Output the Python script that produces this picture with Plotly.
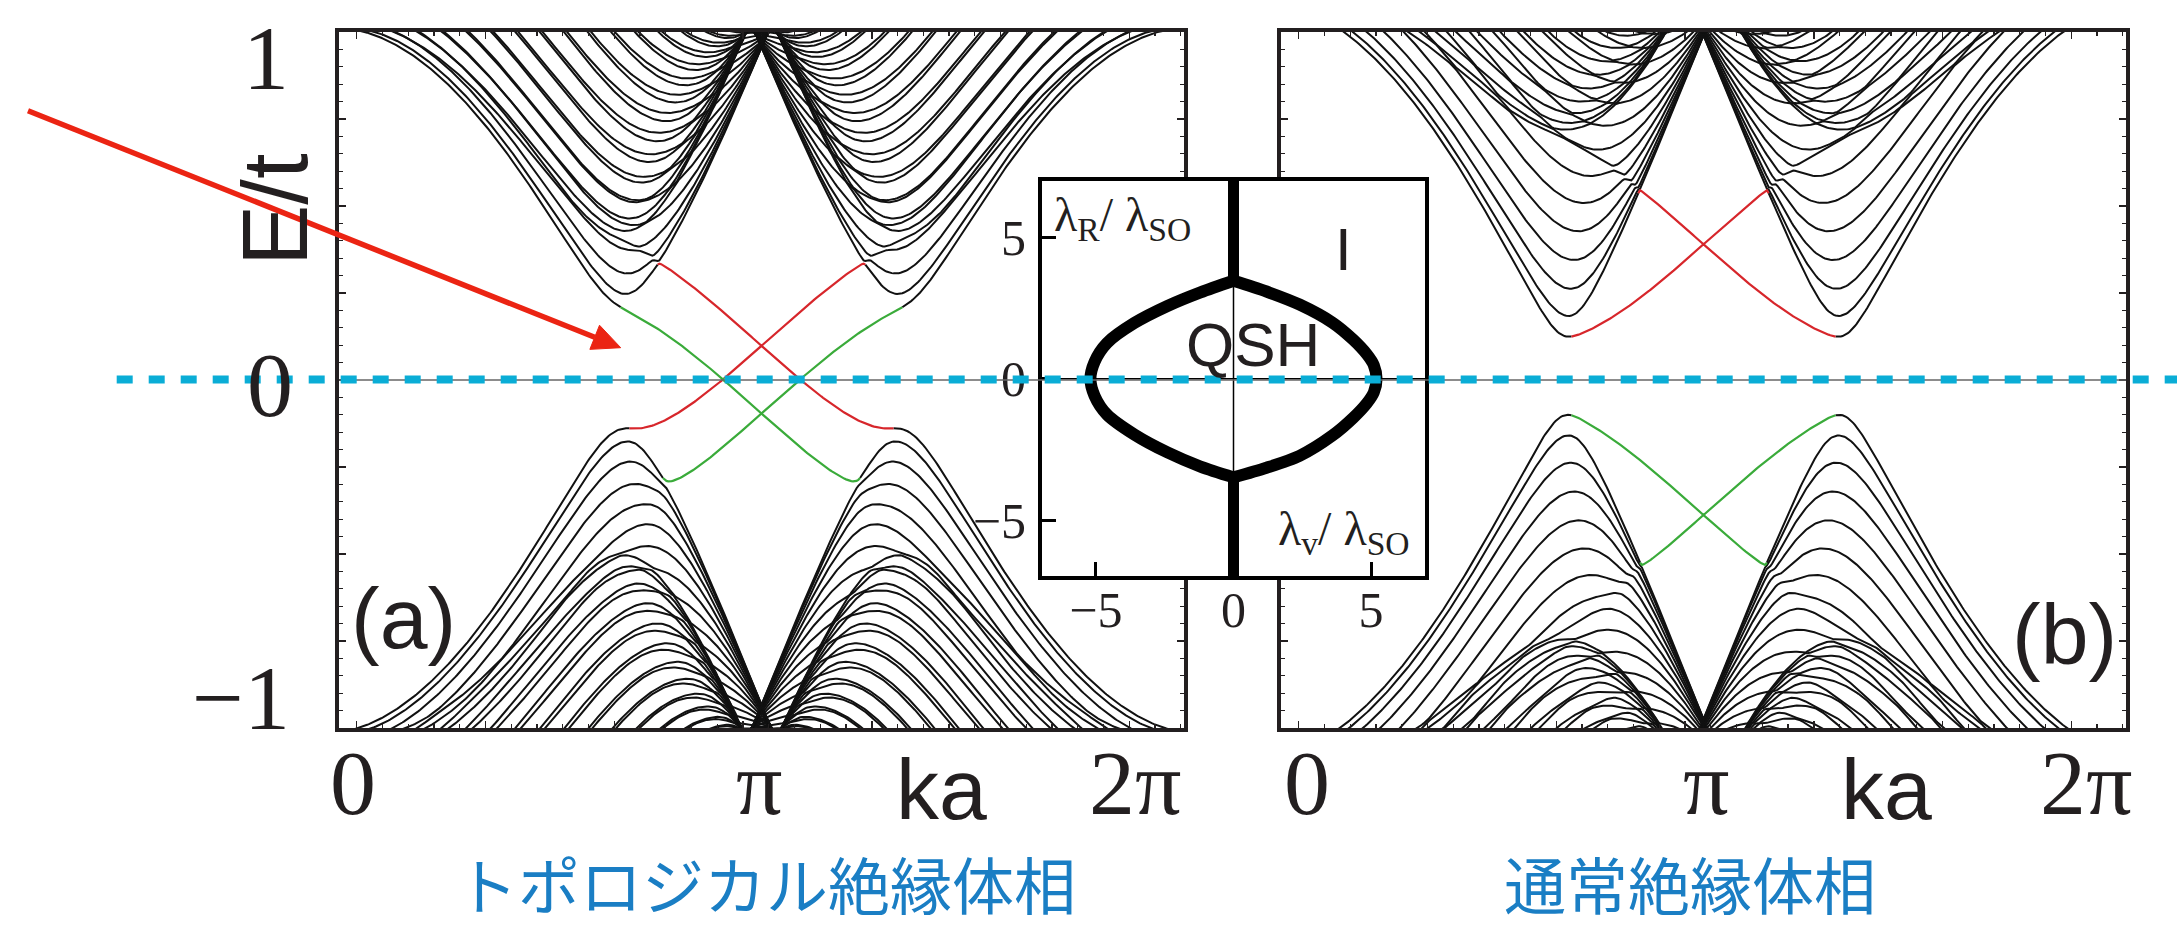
import numpy as np
import plotly.graph_objects as go

# ---------------- model parameters (energies in units of the hopping t) ----------------
LAMBDA_SO = 0.06
LAMBDA_R = 0.05
LAMBDA_V_PANELS = [0.1, 0.4]          # (a) quantum spin Hall phase, (b) ordinary insulator
N_ZIGZAG_CHAINS = 33
N_KA = 481
EDGE_ROWS = 6
EDGE_WEIGHT = 0.5

PANEL_TAGS = ["(a)", "(b)"]
PANEL_CAPTIONS = ["トポロジカル絶縁体相", "通常絶縁体相"]
KA_LABELS = ["0", "π", "2π"]
KA_TITLE = "ka"
E_LABELS = ["1", "0", "−1"]
E_TITLE = "E/t"

# inset: boundary of the QSH region, (λ_v/λ_SO, λ_R/λ_SO)
QSH_RIGHT_V = [0.0, 1.2, 2.4, 3.6, 4.35, 4.85, 5.1, 5.2, 5.1, 4.85, 4.35, 3.6, 2.4, 1.2, 0.0]
QSH_RIGHT_R = [3.46, 3.08, 2.62, 1.98, 1.38, 0.86, 0.48, 0.0, -0.48, -0.86, -1.38, -2.0, -2.72, -3.14, -3.48]
QSH_LEFT_V = [0.0, -1.2, -2.4, -3.6, -4.6, -5.05, -5.2, -5.05, -4.6, -3.6, -2.4, -1.2, 0.0]
QSH_LEFT_R = [3.46, 3.05, 2.57, 1.97, 1.26, 0.6, 0.0, -0.6, -1.26, -1.97, -2.6, -3.1, -3.48]
INSET_TICKS = [-5, 0, 5]
INSET_TICK_TEXT = ["−5", "0", "5"]

INK = "#231f20"
EDGE_COLOURS = {0: "#111111", 1: "#d7262b", 2: "#3aab3a"}
CAPTION_BLUE = "#1a7ec4"
DASH_BLUE = "#0aadd6"
ARROW_RED = "#eb2413"
SERIF = "Liberation Serif"
SANS = "Liberation Sans"
CJK = "Noto Sans CJK JP"

W, H = 2177, 931


def fx(px):
    return px / W


def fy(py):
    return 1 - py / H


# ---------------- Kane–Mele zigzag ribbon ----------------
SQ3 = np.sqrt(3.0)
NN = np.array([[0.0, 1 / SQ3], [0.5, -0.5 / SQ3], [-0.5, -0.5 / SQ3]])   # A -> B bonds
SX = np.array([[0, 1], [1, 0]], dtype=complex)
SY = np.array([[0, -1j], [1j, 0]], dtype=complex)
SZ = np.array([[1, 0], [0, -1]], dtype=complex)
I2 = np.eye(2, dtype=complex)


def ribbon_blocks(n_chains, lam_v):
    # zigzag chain m holds A_m and B_m = A_m + NN[1]; A_m -- B_{m+1} is the vertical bond,
    # so B_0 (bottom) and A_{n-1} (top) are the outermost zigzag atoms
    pos, sub, row = [], [], []
    step = NN[0] - NN[1]
    for m in range(n_chains):
        a_site = m * step
        pos += [a_site, a_site + NN[1]]
        sub += [1, -1]
        row += [m, m]
    pos = np.array(pos)
    ns = len(pos)
    dim = 2 * ns
    blocks = {}

    def add(dx, i, j, amp):
        key = int(round(2 * dx))
        M = blocks.setdefault(key, np.zeros((dim, dim), dtype=complex))
        M[2 * i:2 * i + 2, 2 * j:2 * j + 2] += amp

    for i in range(ns):
        add(0.0, i, i, lam_v * sub[i] * I2)
        for j in range(ns):
            for shift in (-3, -2, -1, 0, 1, 2, 3):
                d = pos[i] - pos[j] - np.array([shift, 0.0])
                dist = np.hypot(d[0], d[1])
                if abs(dist - 1 / SQ3) < 1e-6:
                    u = d * SQ3
                    add(d[0], i, j, I2 + 1j * LAMBDA_R * (SX * u[1] - SY * u[0]))
                elif abs(dist - 1.0) < 1e-6 and sub[i] == sub[j]:
                    s = sub[j]
                    nu = 0.0
                    for a in range(3):
                        for b in range(3):
                            if a != b and np.allclose(s * (NN[a] - NN[b]), d):
                                cz = NN[a][0] * NN[b][1] - NN[a][1] * NN[b][0]
                                nu = np.sign(cz)
                    add(d[0], i, j, 1j * LAMBDA_SO * nu * SZ)
    return blocks, np.repeat(np.array(row), 2)


def ribbon_bands(lam_v, ka):
    blocks, site_row = ribbon_blocks(N_ZIGZAG_CHAINS, lam_v)
    dim = len(site_row)
    bottom = site_row < EDGE_ROWS
    top = site_row >= N_ZIGZAG_CHAINS - EDGE_ROWS
    energies = np.empty((len(ka), dim))
    edge = np.zeros((len(ka), dim), dtype=int)
    for n, k in enumerate(ka):
        Hk = sum(M * np.exp(0.5j * k * key) for key, M in blocks.items())
        w, v = np.linalg.eigh(Hk)
        p = np.abs(v) ** 2
        wb = p[bottom].sum(axis=0)
        wt = p[top].sum(axis=0)
        # top edge (A-terminated) in red, bottom edge (B-terminated) in green
        cls = np.where(wt > EDGE_WEIGHT, 1, np.where(wb > EDGE_WEIGHT, 2, 0))
        # only edge states lying inside the bulk gap at this k are highlighted
        bulk = w[cls == 0]
        cmin = bulk[bulk > 0].min() if np.any(bulk > 0) else np.inf
        vmax = bulk[bulk < 0].max() if np.any(bulk < 0) else -np.inf
        cls = np.where((w < cmin) & (w > vmax), cls, 0)
        energies[n] = w
        edge[n] = cls
    return energies, edge


def colour_runs(ka, E, cls):
    xs = {0: [], 1: [], 2: []}
    ys = {0: [], 1: [], 2: []}
    for b in range(E.shape[1]):
        e = np.round(E[:, b], 4)
        c = cls[:, b]
        seg = np.where(c[:-1] == c[1:], c[:-1], np.maximum(c[:-1], c[1:]))
        start = 0
        for i in range(1, len(seg) + 1):
            if i == len(seg) or seg[i] != seg[start]:
                col = int(seg[start])
                xs[col].extend(ka[start:i + 1].tolist())
                xs[col].append(None)
                ys[col].extend(e[start:i + 1].tolist())
                ys[col].append(None)
                start = i
    return xs, ys


ka = np.linspace(0.0, 2 * np.pi, N_KA)

fig = go.Figure()

# ---------------- band panels ----------------
PANEL_X = [(339, 1184), (1281, 2126)]
PANEL_Y = (32, 728)

for p, lam_v in enumerate(LAMBDA_V_PANELS):
    E, cls = ribbon_bands(lam_v, ka)
    xs, ys = colour_runs(ka, E, cls)
    xa = "x" if p == 0 else "x2"
    ya = "y" if p == 0 else "y2"
    for col in (0, 1, 2):
        fig.add_trace(go.Scatter(
            x=xs[col], y=ys[col], mode="lines", xaxis=xa, yaxis=ya,
            line=dict(color=EDGE_COLOURS[col], width=2 if col == 0 else 2.2),
            hoverinfo="skip", showlegend=False))

# ---------------- inset: phase diagram ----------------
inset_axes = dict(xaxis="x3", yaxis="y3", hoverinfo="skip", showlegend=False)
fig.add_trace(go.Scatter(x=[-8, 8, 8, -8, -8], y=[-8, -8, 8, 8, -8], mode="lines",
                         fill="toself", fillcolor="white", line=dict(width=0, color="white"),
                         **inset_axes))
fig.add_trace(go.Scatter(x=[-8, 8], y=[0, 0], mode="lines",
                         line=dict(color="black", width=1.5), **inset_axes))
fig.add_trace(go.Scatter(x=[0, 0], y=[-8, 8], mode="lines",
                         line=dict(color="black", width=1.5), **inset_axes))
fig.add_trace(go.Scatter(x=QSH_RIGHT_V, y=QSH_RIGHT_R, mode="lines",
                         line=dict(color="black", width=12, shape="spline", smoothing=0.8),
                         **inset_axes))
fig.add_trace(go.Scatter(x=QSH_LEFT_V, y=QSH_LEFT_R, mode="lines",
                         line=dict(color="black", width=12, shape="spline", smoothing=0.8),
                         **inset_axes))
fig.add_trace(go.Scatter(x=[0, 0], y=[QSH_RIGHT_R[0], 8], mode="lines",
                         line=dict(color="black", width=11), **inset_axes))
fig.add_trace(go.Scatter(x=[0, 0], y=[QSH_RIGHT_R[-1], -8], mode="lines",
                         line=dict(color="black", width=11), **inset_axes))

# ---------------- axes ----------------
minor_x = dict(ticks="inside", ticklen=4, tickwidth=1.2, tickcolor=INK, tick0=0.1316, dtick=0.1915, showgrid=False)
minor_y = dict(ticks="inside", ticklen=4, tickwidth=1.2, tickcolor=INK, tick0=-1, dtick=0.05, showgrid=False)
frame = dict(showline=True, linewidth=4, linecolor=INK, mirror="allticks", ticks="inside",
             ticklen=7, tickwidth=1.5, tickcolor=INK, showgrid=False, zeroline=False,
             showticklabels=False, fixedrange=True)

layout_axes = {}
for p, (x0, x1) in enumerate(PANEL_X):
    sx = "" if p == 0 else "2"
    layout_axes["xaxis" + sx] = dict(frame, domain=[fx(x0), fx(x1)], range=[0, 2 * np.pi],
                                     anchor="y" + sx, tickmode="linear", tick0=0.1316,
                                     dtick=0.9576, minor=minor_x)
    layout_axes["yaxis" + sx] = dict(frame, domain=[fy(PANEL_Y[1]), fy(PANEL_Y[0])], range=[-1, 1],
                                     anchor="x" + sx, tickmode="linear", tick0=-1, dtick=0.25,
                                     minor=minor_y)

inset_frame = dict(showline=True, linewidth=4, linecolor="black", mirror=True, ticks="inside",
                   ticklen=14, tickwidth=3, tickcolor="black", showgrid=False, zeroline=False,
                   tickvals=INSET_TICKS, ticktext=INSET_TICK_TEXT,
                   tickfont=dict(family=SERIF, size=50, color=INK), fixedrange=True)
layout_axes["xaxis3"] = dict(inset_frame, domain=[fx(1042), fx(1425)], range=[-6.96, 6.96],
                             anchor="y3", ticklabelstandoff=-13)
layout_axes["yaxis3"] = dict(inset_frame, domain=[fy(576), fy(181)], range=[-6.96, 6.98],
                             anchor="x3", ticklabelstandoff=2)

# ---------------- text ----------------
ann = []


def text(x, y, s, size, family, color=INK, xanchor="center", yanchor="middle", angle=0):
    ann.append(dict(x=fx(x), y=fy(y), xref="paper", yref="paper", text=s, showarrow=False,
                    xanchor=xanchor, yanchor=yanchor, textangle=angle,
                    font=dict(family=family, size=size, color=color)))


# energy axis
text(291, 58, E_LABELS[0], 92, SERIF, xanchor="right")
text(295, 385, E_LABELS[1], 92, SERIF, xanchor="right")
text(292, 698, E_LABELS[2], 92, SERIF, xanchor="right")
text(275, 210, E_TITLE, 92, SANS, angle=-90)

# momentum axes
for lbl_x, ka_x in (([353, 759, 1135], 941), ([1307, 1706, 2086], 1886)):
    for s, xpos in zip(KA_LABELS, lbl_x):
        text(xpos, 783, s, 92, SERIF)
    text(ka_x, 789, KA_TITLE, 86, SANS)

# panel tags
text(403, 618, PANEL_TAGS[0], 86, SANS)
text(2064, 634, PANEL_TAGS[1], 86, SANS)

# captions
text(766, 930, PANEL_CAPTIONS[0], 62, CJK, color=CAPTION_BLUE, yanchor="bottom")
text(1690, 930, PANEL_CAPTIONS[1], 62, CJK, color=CAPTION_BLUE, yanchor="bottom")

# inset labels
text(1052, 186, "λ<sub>R</sub>/ λ<sub>SO</sub>", 48, SERIF, xanchor="left", yanchor="top")
text(1276, 500, "λ<sub>v</sub>/ λ<sub>SO</sub>", 48, SERIF, xanchor="left", yanchor="top")
text(1343, 249, "I", 60, SANS)
text(1253, 345, "QSH", 62, SANS)

# ---------------- overlay shapes ----------------
shapes = []
# thin zero-energy line across both panels
shapes.append(dict(type="line", xref="paper", yref="paper", x0=fx(339), x1=fx(2126),
                   y0=fy(380), y1=fy(380), line=dict(color="#666666", width=1.5), layer="above"))
# Fermi level marker
shapes.append(dict(type="line", xref="paper", yref="paper", x0=fx(116.7), x1=1.0,
                   y0=fy(379.5), y1=fy(379.5),
                   line=dict(color=DASH_BLUE, width=8, dash="16px,16px"), layer="above"))
# arrow pointing at the edge states
tail = np.array([28.0, 110.7])
tip = np.array([620.7, 347.7])
u = (tip - tail) / np.hypot(*(tip - tail))
perp = np.array([-u[1], u[0]])
base = tip - 28 * u
c1 = base + 13 * perp
c2 = base - 13 * perp
shapes.append(dict(type="line", xref="paper", yref="paper", x0=fx(tail[0]), y0=fy(tail[1]),
                   x1=fx(base[0]), y1=fy(base[1]), line=dict(color=ARROW_RED, width=5.5),
                   layer="above"))
shapes.append(dict(type="path", xref="paper", yref="paper",
                   path=f"M {fx(tip[0])} {fy(tip[1])} L {fx(c1[0])} {fy(c1[1])} "
                        f"L {fx(c2[0])} {fy(c2[1])} Z",
                   fillcolor=ARROW_RED, line=dict(color=ARROW_RED, width=1), layer="above"))

fig.update_layout(
    width=W, height=H, autosize=False,
    margin=dict(l=0, r=0, t=0, b=0, pad=0),
    paper_bgcolor="white", plot_bgcolor="white",
    showlegend=False, annotations=ann, shapes=shapes,
    **layout_axes)

fig.write_html("out.html", config=dict(displayModeBar=False, staticPlot=True))
